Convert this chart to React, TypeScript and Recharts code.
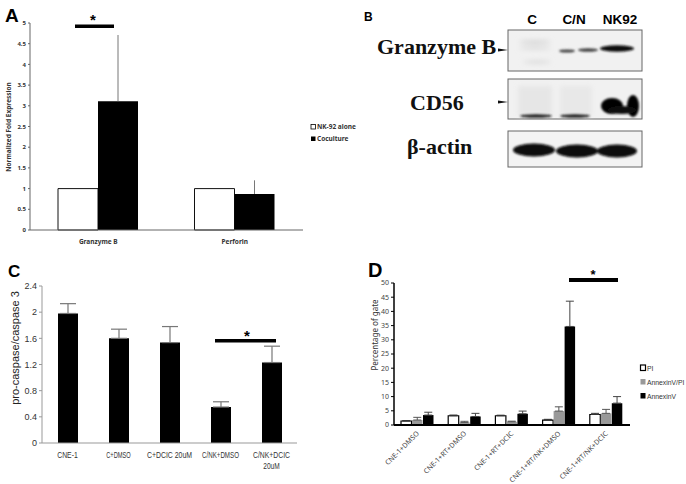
import React from 'react';
import { BarChart, Bar, XAxis, YAxis, ErrorBar } from 'recharts';

// Panel A - qPCR fold expression
const geneLabels = ['Granzyme B', 'Perforin'];
const nk92Alone = [1, 1];
const cocultureMean = [3.11, 0.87];
const cocultureErr = [1.6, 0.33];
const foldTicks = [0, 0.5, 1, 1.5, 2, 2.5, 3, 3.5, 4, 4.5, 5];

// Panel C - pro-caspase/caspase 3 ratio
const caspaseGroups = ['CNE-1', 'C+DMSO', 'C+DCIC 20uM', 'C/NK+DMSO', 'C/NK+DCIC\n20uM'];
const caspaseRatio = [1.98, 1.6, 1.535, 0.55, 1.23];
const caspaseErr = [0.15, 0.14, 0.245, 0.08, 0.25];
const caspaseTicks = [0, 0.4, 0.8, 1.2, 1.6, 2, 2.4];

// Panel D - flow cytometry percentages
const apoptosisGroups = ['CNE-1+DMSO', 'CNE-1+RT+DMSO', 'CNE-1+RT+DCIC', 'CNE-1+RT/NK+DMSO', 'CNE-1+RT/NK+DCIC'];
const piPct = [1.4, 3.25, 3.25, 1.75, 3.7];
const piErr = [0.15, 0.25, 0.2, 0.25, 0.4];
const annexinPiPct = [1.75, 0.9, 1.15, 4.9, 4.1];
const annexinPiErr = [0.95, 0.4, 0.2, 1.5, 1.4];
const annexinPct = [3.5, 3.0, 3.95, 34.7, 7.7];
const annexinErr = [1.0, 1.1, 0.95, 8.9, 2.3];
const gateTicks = [0, 5, 10, 15, 20, 25, 30, 35, 40, 45, 50];
const gateLegend = ['PI', 'AnnexinV/PI', 'AnnexinV'];

// Panel B - western blot lanes
const blotLanes = ['C', 'C/N', 'NK92'];
const blotProteins = ['Granzyme B', 'CD56', 'β-actin'];

const foldData = geneLabels.map((g, i) => ({
  gene: g,
  alone: nk92Alone[i],
  co: cocultureMean[i],
  coErr: [0, cocultureErr[i]],
}));

const caspaseData = caspaseGroups.map((g, i) => ({
  group: g,
  ratio: caspaseRatio[i],
  err: [0, caspaseErr[i]],
}));

const gateData = apoptosisGroups.map((g, i) => ({
  group: g,
  pi: piPct[i],
  piE: [0, piErr[i]],
  avpi: annexinPiPct[i],
  avpiE: [0, annexinPiErr[i]],
  av: annexinPct[i],
  avE: [0, annexinErr[i]],
}));

const smallFont = 'Noto Sans';

const ATick = (props: any) => {
  const { x, y, payload } = props;
  return (
    <text x={x} y={y + 12} textAnchor="middle" fontSize={6.5} fontWeight={700} fill="#333" fontFamily={smallFont}>
      {payload.value}
    </text>
  );
};

// narrow, simsun-like labels: squeeze each line to ~4.1px per character
const CTick = (props: any) => {
  const { x, y, payload } = props;
  const lines = String(payload.value).split('\n');
  return (
    <g>
      {lines.map((l, i) => (
        <text key={i} x={x} y={y + 13 + i * 11} textAnchor="middle" fontSize={8.5} fill="#333" fontFamily="Liberation Sans"
          textLength={l.length * 4.1} lengthAdjust="spacingAndGlyphs">{l}</text>
      ))}
    </g>
  );
};

const DTick = (props: any) => {
  const { x, y, payload } = props;
  const ty = y + 7;
  return (
    <text x={x + 2} y={ty} transform={`rotate(-45 ${x + 2} ${ty})`} textAnchor="end" fontSize={7} fill="#444" fontFamily={smallFont}>
      {payload.value}
    </text>
  );
};

const Blot = () => (
  <g>
    <defs>
      <filter id="bl1" x="-50%" y="-50%" width="200%" height="200%"><feGaussianBlur stdDeviation="1.2" /></filter>
      <filter id="bl2" x="-50%" y="-50%" width="200%" height="200%"><feGaussianBlur stdDeviation="2.5" /></filter>
    </defs>
    <text x={364} y={21} fontSize={12} fontWeight={700} fontFamily="Liberation Sans">B</text>
    {blotLanes.map((l, i) => (
      <text key={l} x={[532, 574, 620][i]} y={24} textAnchor="middle" fontSize={13.5} fontWeight={700} fontFamily="Liberation Sans">{l}</text>
    ))}
    {blotProteins.map((p, i) => (
      <text key={p} x={[377, 410, 407][i]} y={[54, 110, 154][i]} fontSize={22} fontWeight={700} fontFamily="Liberation Serif" fill="#111">{p}</text>
    ))}
    {/* box 1: granzyme B */}
    <rect x={508} y={30} width={134} height={41} fill="#f1f1f1" stroke="#666" strokeWidth={1} />
    <g filter="url(#bl2)">
      <ellipse cx={535} cy={42} rx={16} ry={1.5} fill="#ccc" />
      <ellipse cx={535} cy={48} rx={16} ry={1.5} fill="#d6d6d6" />
      <ellipse cx={537} cy={62} rx={14} ry={1.5} fill="#d6d6d6" />
    </g>
    <g filter="url(#bl1)">
      <ellipse cx={567} cy={51} rx={8} ry={1.6} fill="#444" />
      <ellipse cx={588} cy={50} rx={10} ry={1.8} fill="#444" />
      <ellipse cx={617} cy={48.5} rx={17} ry={3.2} fill="#111" />
    </g>
    <polygon points="498,48.5 508,50 498,51.5" fill="#111" />
    {/* box 2: CD56 */}
    <rect x={508} y={79} width={134} height={40} fill="#f1f1f1" stroke="#666" strokeWidth={1} />
    <g filter="url(#bl2)">
      <rect x={518} y={86} width={34} height={30} fill="#e6e6e6" />
      <rect x={560} y={86} width={32} height={30} fill="#e8e8e8" />
    </g>
    <g filter="url(#bl1)">
      <ellipse cx={536} cy={116} rx={16} ry={1.8} fill="#222" />
      <ellipse cx={575} cy={116} rx={15} ry={1.8} fill="#222" />
      <ellipse cx={612} cy={106} rx={11} ry={8} fill="#000" />
      <ellipse cx={633} cy={106} rx={6} ry={11} fill="#000" />
      <ellipse cx={622} cy={110} rx={14} ry={4} fill="#111" />
    </g>
    <polygon points="498,100.5 508,102 498,103.5" fill="#111" />
    {/* box 3: beta-actin */}
    <rect x={508} y={131} width={134} height={36} fill="#f3f3f3" stroke="#666" strokeWidth={1} />
    <g filter="url(#bl1)">
      <ellipse cx={534} cy={150} rx={21} ry={6.5} fill="#080808" />
      <ellipse cx={577} cy={151} rx={21} ry={6.5} fill="#080808" />
      <ellipse cx={617} cy={151} rx={20} ry={6.5} fill="#080808" />
    </g>
  </g>
);

const legendFills = ['#fff', '#999', '#000'];

const App = () => {
  return (
    <div style={{ position: 'absolute', left: 0, top: 0, width: 686, height: 484, background: '#fff', overflow: 'hidden' }}>
      {/* Panel A */}
      <div style={{ position: 'absolute', left: 0, top: 0 }}>
        <BarChart width={360} height={260} data={foldData} margin={{ top: 23, right: 57, left: 10, bottom: 10 }} barGap={0} barSize={40}>
          <XAxis dataKey="gene" height={20} axisLine={{ stroke: '#666' }} tickLine={false} tickSize={0} tick={<ATick />} interval={0} />
          <YAxis width={20} domain={[0, 5]} ticks={foldTicks} interval={0} axisLine={{ stroke: '#666' }} tickLine={{ stroke: '#666' }} tickSize={2}
            tick={{ fontSize: 6, fill: '#333', fontWeight: 700, fontFamily: smallFont }} />
          <Bar dataKey="alone" fill="#fff" stroke="#111" strokeWidth={1} isAnimationActive={false} />
          <Bar dataKey="co" fill="#000" isAnimationActive={false}>
            <ErrorBar dataKey="coErr" width={0} stroke="#777" strokeWidth={1} direction="y" />
          </Bar>
        </BarChart>
      </div>
      {/* Panel C */}
      <div style={{ position: 'absolute', left: 0, top: 260 }}>
        <BarChart width={330} height={224} data={caspaseData} margin={{ top: 26, right: 33, left: 12, bottom: 6 }} barSize={20}>
          <XAxis dataKey="group" height={35} axisLine={{ stroke: '#999' }} tickLine={false} tickSize={0} tick={<CTick />} interval={0} />
          <YAxis width={30} domain={[0, 2.4]} ticks={caspaseTicks} interval={0} axisLine={{ stroke: '#999' }} tickLine={{ stroke: '#999' }} tickSize={3}
            tick={{ fontSize: 9, fill: '#333', fontFamily: 'Liberation Sans' }} />
          <Bar dataKey="ratio" fill="#000" isAnimationActive={false}>
            <ErrorBar dataKey="err" width={8} stroke="#777" strokeWidth={1.2} direction="y" />
          </Bar>
        </BarChart>
      </div>
      {/* Panel D */}
      <div style={{ position: 'absolute', left: 360, top: 250 }}>
        <BarChart width={326} height={234} data={gateData} margin={{ top: 33, right: 56, left: 10, bottom: 4 }} barSize={10.5} barGap={0.5}>
          <XAxis dataKey="group" height={55} axisLine={{ stroke: '#000', strokeWidth: 2 }} tickLine={false} tickSize={0} tick={<DTick />} interval={0} />
          <YAxis width={24} domain={[0, 50]} ticks={gateTicks} interval={0} axisLine={{ stroke: '#000', strokeWidth: 1.5 }} tickLine={{ stroke: '#000' }} tickSize={3}
            tick={{ fontSize: 7, fill: '#444', fontFamily: smallFont }} />
          <Bar dataKey="pi" fill="#fff" stroke="#000" strokeWidth={1.2} isAnimationActive={false}>
            <ErrorBar dataKey="piE" width={4} stroke="#333" strokeWidth={1} direction="y" />
          </Bar>
          <Bar dataKey="avpi" fill="#999" isAnimationActive={false}>
            <ErrorBar dataKey="avpiE" width={4} stroke="#555" strokeWidth={1} direction="y" />
          </Bar>
          <Bar dataKey="av" fill="#000" isAnimationActive={false}>
            <ErrorBar dataKey="avE" width={4} stroke="#444" strokeWidth={1} direction="y" />
          </Bar>
        </BarChart>
      </div>
      {/* annotations, legends, blot */}
      <svg width={686} height={484} style={{ position: 'absolute', left: 0, top: 0, pointerEvents: 'none' }}>
        <text x={5} y={22} fontSize={19} fontWeight={700} fontFamily="Liberation Sans">A</text>
        <text x={93} y={25} textAnchor="middle" fontSize={15} fontWeight={700} fontFamily="Liberation Sans">*</text>
        <rect x={75} y={24.5} width={39} height={3.5} fill="#000" />
        <text x={11} y={127} transform="rotate(-90 11 127)" textAnchor="middle" fontSize={6.5} fontWeight={700} fill="#333" fontFamily={smallFont}>Normalized Fold Expression</text>
        <rect x={311} y={124.5} width={4.5} height={4.5} fill="#fff" stroke="#000" strokeWidth={0.8} />
        <text x={317} y={129.3} fontSize={6.5} fontWeight={700} fill="#333" fontFamily={smallFont}>NK-92 alone</text>
        <rect x={311} y={136.5} width={4.5} height={4.5} fill="#000" />
        <text x={317} y={141.3} fontSize={6.5} fontWeight={700} fill="#333" fontFamily={smallFont}>Coculture</text>

        <Blot />

        <text x={8} y={277} fontSize={17} fontWeight={700} fontFamily="Liberation Sans">C</text>
        <text x={19} y={348} transform="rotate(-90 19 348)" textAnchor="middle" fontSize={11} fill="#222" fontFamily="Liberation Sans">pro-caspase/caspase 3</text>
        <text x={247} y={341} textAnchor="middle" fontSize={15} fontWeight={700} fontFamily="Liberation Sans">*</text>
        <rect x={215} y={339} width={61} height={3.5} fill="#000" />

        <text x={368} y={277} fontSize={20} fontWeight={700} fontFamily="Liberation Sans">D</text>
        <text x={378} y={335} transform="rotate(-90 378 335)" textAnchor="middle" fontSize={8} fill="#333" fontFamily={smallFont}>Percentage of gate</text>
        <text x={593} y={279} textAnchor="middle" fontSize={13} fontWeight={700} fontFamily="Liberation Sans">*</text>
        <rect x={569} y={278} width={49} height={4} fill="#000" />
        {gateLegend.map((name, i) => (
          <g key={name}>
            <rect x={640.5} y={365 + i * 14} width={5} height={5.5} fill={legendFills[i]} stroke={i === 0 ? '#000' : 'none'} strokeWidth={1.2} />
            <text x={647} y={370.5 + i * 14} fontSize={6.8} fill="#333" fontFamily="Liberation Sans">{name}</text>
          </g>
        ))}
      </svg>
    </div>
  );
};

export default App;
